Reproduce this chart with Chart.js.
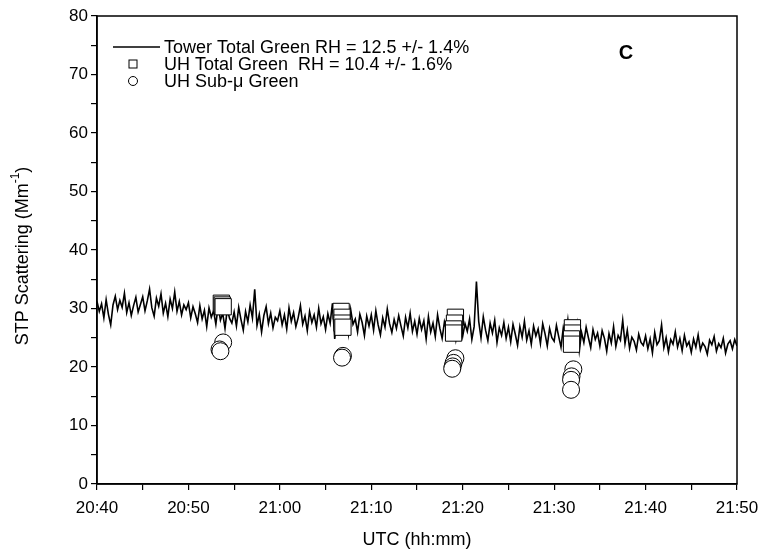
<!DOCTYPE html>
<html>
<head>
<meta charset="utf-8">
<script src="https://cdn.jsdelivr.net/npm/chart.js@4.4.1/dist/chart.umd.min.js"></script>
<style>
  html, body { margin: 0; padding: 0; background: #fff; }
  #wrap { width: 763px; height: 552px; }
</style>
</head>
<body>
<div id="wrap"><canvas id="chart" width="763" height="552"></canvas></div>
<script>
// minutes after 20:40 UTC; tower record sampled every 15 s
const towerStartMin = 0;
const towerStepMin = 0.25;
const towerValues = [
  31.2, 29.5, 30.8, 28.4, 31.5, 29.0, 27.2, 30.6, 32.1, 29.8, 31.4, 30.2, 32.6, 29.3, 31.0, 28.8, 30.5, 31.9, 29.4, 30.7,
  32.0, 29.6, 31.3, 33.3, 30.1, 28.7, 31.8, 30.4, 32.5, 29.2, 30.9, 28.6, 31.6, 30.0, 32.8, 29.5, 31.2, 28.9, 30.6, 29.8,
  31.0, 28.4, 30.3, 29.1, 27.6, 30.5, 28.2, 29.7, 26.9, 30.1, 28.5, 29.6, 27.3, 30.4, 28.0, 29.2, 26.6, 29.9, 28.3, 27.5,
  29.4, 27.0, 30.2, 28.1, 26.3, 29.5, 27.7, 30.6, 28.4, 33.3, 27.1, 29.0, 26.0, 28.8, 30.3, 27.4, 29.2, 26.7, 28.5, 27.9,
  29.6, 27.2, 28.9, 26.5, 30.1, 27.8, 29.3, 26.9, 28.4, 30.5, 27.3, 28.7, 26.2, 29.5, 27.6, 28.9, 26.8, 30.0, 27.4, 28.6,
  26.4, 29.1, 27.5, 30.9, 24.8, 28.3, 26.9, 29.4, 27.1, 28.6, 25.7, 29.8, 27.3, 28.2, 26.0, 29.0, 27.6, 25.4, 28.7, 27.0,
  28.9, 26.3, 29.6, 27.2, 25.5, 28.4, 26.8, 29.9, 27.4, 25.9, 28.1, 26.6, 28.8, 27.0, 25.3, 28.5, 26.7, 29.2, 26.1, 27.8,
  25.6, 28.3, 26.4, 27.9, 24.8, 28.6, 26.0, 27.5, 25.2, 28.9, 26.6, 24.9, 27.7, 26.2, 28.4, 25.5, 27.1, 24.6, 26.8, 28.0,
  25.3, 27.4, 26.1, 28.2, 24.7, 26.9, 34.6, 27.8, 25.0, 28.6, 26.3, 24.5, 27.5, 25.8, 28.0, 24.2, 26.7, 25.4, 27.6, 24.9,
  26.8, 24.3, 27.3, 25.6, 23.7, 26.9, 25.1, 27.8, 24.6, 26.2, 23.9, 27.0, 25.3, 26.5, 24.0, 27.4, 25.7, 23.6, 26.6, 25.0,
  24.4, 27.1, 25.2, 23.4, 26.7, 24.8, 28.0, 23.9, 26.1, 24.5, 27.3, 22.8, 25.9, 24.2, 26.8, 25.0, 23.3, 26.4, 24.7, 25.8,
  23.6, 26.2, 24.9, 22.7, 25.7, 24.1, 26.9, 23.5, 25.4, 24.6, 28.0, 24.0, 26.3, 23.2, 25.1, 24.4, 22.9, 25.6, 24.2, 23.7,
  25.3, 23.1, 24.8, 22.4, 25.9, 23.8, 24.5, 27.2, 23.3, 25.0, 22.6, 24.7, 23.9, 26.0, 23.4, 24.9, 22.8, 25.4, 23.6, 24.3,
  22.5, 24.8, 23.4, 25.5, 22.9, 24.1, 23.5, 22.2, 24.6, 23.8, 25.2, 22.7, 24.0, 23.3, 24.9, 22.4, 23.9, 24.5, 23.1, 24.7,
  23.6
];

const uhTotalTimes  = [13.6, 13.7, 13.8, 26.7, 26.8, 26.8, 26.9, 39.2, 39.1, 39.0, 39.0, 52.0, 52.0, 51.9, 51.9];
const uhTotalValues = [30.9, 30.6, 30.3, 29.5, 28.5, 27.5, 26.8, 28.5, 27.5, 26.5, 25.8, 26.7, 25.8, 24.8, 23.9];

const uhSubTimes  = [13.8, 13.4, 13.5, 26.9, 26.8, 39.2, 39.0, 38.9, 38.85, 52.1, 51.9, 51.85, 51.85];
const uhSubValues = [24.2, 23.0, 22.7, 21.9, 21.6, 21.5, 20.7, 20.1, 19.7, 19.6, 18.4, 17.8, 16.1];

const xMin = 0, xMax = 70, yMin = 0, yMax = 80;

const legendLabels = [
  'Tower Total Green RH = 12.5 +/- 1.4%',
  'UH Total Green  RH = 10.4 +/- 1.6%',
  'UH Sub-\u03bc Green'
];
const panelLetter = 'C';

const FONT = '"Liberation Sans", Arial, sans-serif';

function clockLabel(m) {
  const total = 20 * 60 + 40 + m;
  const hh = Math.floor(total / 60);
  const mm = total % 60;
  return hh + ':' + (mm < 10 ? '0' : '') + mm;
}

const towerPoints = towerValues.map((v, i) => ({ x: towerStartMin + i * towerStepMin, y: v }));
const totalPoints = uhTotalTimes.map((t, i) => ({ x: t, y: uhTotalValues[i] }));
const subPoints = uhSubTimes.map((t, i) => ({ x: t, y: uhSubValues[i] }));

// frame, legend, panel letter, y title with superscript
const decorations = {
  id: 'decorations',
  afterDraw(chart) {
    const ctx = chart.ctx;
    const a = chart.chartArea;
    ctx.save();
    ctx.strokeStyle = '#000';
    ctx.lineWidth = 1.5;
    ctx.strokeRect(a.left, a.top, a.right - a.left, a.bottom - a.top);

    ctx.fillStyle = '#000';
    ctx.font = '18px ' + FONT;
    ctx.textBaseline = 'middle';
    ctx.textAlign = 'left';
    const rows = [47, 64, 81];
    // line sample
    ctx.lineWidth = 1.3;
    ctx.beginPath();
    ctx.moveTo(113, rows[0]);
    ctx.lineTo(160, rows[0]);
    ctx.stroke();
    // square sample
    ctx.lineWidth = 1;
    ctx.strokeRect(129, rows[1] - 4, 8, 8);
    // circle sample
    ctx.beginPath();
    ctx.arc(133, rows[2], 4.5, 0, Math.PI * 2);
    ctx.stroke();
    legendLabels.forEach((t, i) => ctx.fillText(t, 164, rows[i] + 1));

    ctx.font = 'bold 20px ' + FONT;
    ctx.textAlign = 'center';
    ctx.fillText(panelLetter, 626, 53);

    // y axis title
    ctx.translate(23, (a.top + a.bottom) / 2 + 6);
    ctx.rotate(-Math.PI / 2);
    const main = 'STP Scattering (Mm';
    const sup = '-1';
    const tail = ')';
    ctx.font = '18px ' + FONT;
    const w1 = ctx.measureText(main).width;
    const w3 = ctx.measureText(tail).width;
    ctx.font = '12px ' + FONT;
    const w2 = ctx.measureText(sup).width;
    const x = -(w1 + w2 + w3) / 2;
    ctx.textAlign = 'left';
    ctx.font = '18px ' + FONT;
    ctx.fillText(main, x, 0);
    ctx.font = '12px ' + FONT;
    ctx.fillText(sup, x + w1, -7);
    ctx.font = '18px ' + FONT;
    ctx.fillText(tail, x + w1 + w2, 0);
    ctx.restore();
  }
};

new Chart(document.getElementById('chart'), {
  type: 'scatter',
  plugins: [decorations],
  data: {
    datasets: [
      {
        label: 'UH Total Green',
        data: totalPoints,
        pointStyle: 'rect',
        pointRadius: 11.5,
        borderColor: '#000',
        borderWidth: 1,
        backgroundColor: '#fff',
        order: 1
      },
      {
        label: 'UH Sub-micron Green',
        data: subPoints,
        pointStyle: 'circle',
        pointRadius: 8.5,
        borderColor: '#000',
        borderWidth: 1,
        backgroundColor: '#fff',
        order: 1
      },
      {
        type: 'line',
        label: 'Tower Total Green',
        data: towerPoints,
        borderColor: '#000',
        borderWidth: 1.6,
        pointRadius: 0,
        tension: 0,
        fill: false,
        order: 2
      }
    ]
  },
  options: {
    responsive: false,
    animation: false,
    events: [],
    layout: { padding: { left: 0, right: 26, top: 16, bottom: 0 } },
    plugins: {
      legend: { display: false },
      tooltip: { enabled: false }
    },
    scales: {
      x: {
        type: 'linear',
        min: xMin,
        max: xMax,
        afterFit(scale) {
          scale.height = 68;
          scale.paddingLeft = 0;
          scale.paddingRight = 0;
        },
        border: { display: true, color: '#000', width: 1.5 },
        grid: { drawOnChartArea: false, drawTicks: true, tickLength: 6, color: '#000', lineWidth: 1.2 },
        ticks: {
          stepSize: 5,
          autoSkip: false,
          maxRotation: 0,
          padding: 8,
          color: '#000',
          font: { family: FONT, size: 17 },
          callback: v => (v % 10 === 0 ? clockLabel(v) : '')
        },
        title: {
          display: true,
          text: 'UTC (hh:mm)',
          color: '#000',
          font: { family: FONT, size: 18 },
          padding: { top: 0, bottom: 1 }
        }
      },
      y: {
        type: 'linear',
        min: yMin,
        max: yMax,
        afterFit(scale) {
          scale.width = 97;
          scale.paddingTop = 0;
          scale.paddingBottom = 0;
        },
        border: { display: true, color: '#000', width: 1.5 },
        grid: { drawOnChartArea: false, drawTicks: true, tickLength: 6, color: '#000', lineWidth: 1.2 },
        ticks: {
          stepSize: 5,
          autoSkip: false,
          padding: 3,
          color: '#000',
          font: { family: FONT, size: 17 },
          callback: v => (v % 10 === 0 ? String(v) : '')
        }
      }
    }
  }
});
</script>
</body>
</html>
